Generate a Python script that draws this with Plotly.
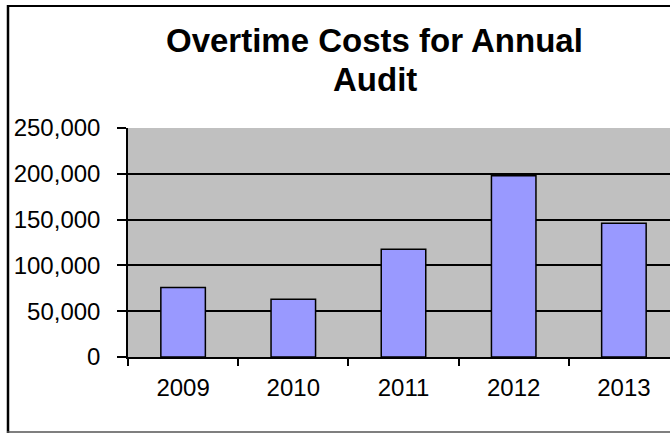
import plotly.graph_objects as go

years = ["2009", "2010", "2011", "2012", "2013"]
costs = [76000, 63000, 117500, 198000, 146000]
y_ticks = [0, 50000, 100000, 150000, 200000, 250000]
title_lines = ["Overtime Costs for Annual", "Audit"]

W, H = 670, 434
L, T, B = 128, 128, 77
plot_w = W - L
plot_h = H - T - B

def px_x(px):
    return (px - L) / plot_w

def px_y(py):
    return (H - B - py) / plot_h

font_family = "Arial, Liberation Sans, sans-serif"

fig = go.Figure()
fig.add_trace(go.Bar(
    x=years, y=costs,
    marker=dict(color="#9999FF", line=dict(color="black", width=1.5)),
    width=0.404,
))

border = [
    dict(x0=px_x(8), x1=px_x(8), y0=px_y(433), y1=px_y(5), color="black", width=2.5),
    dict(x0=px_x(7), x1=px_x(720), y0=px_y(6), y1=px_y(6), color="black", width=2),
    dict(x0=px_x(7), x1=px_x(720), y0=px_y(432), y1=px_y(432), color="#555555", width=1.5),
]

fig.update_layout(
    width=W, height=H,
    margin=dict(l=L, r=0, t=T, b=B, pad=0),
    paper_bgcolor="white",
    plot_bgcolor="#C0C0C0",
    showlegend=False,
    font=dict(family=font_family, color="black", size=24),
    xaxis=dict(
        type="category",
        range=[-0.5, -0.5 + plot_w / 110.2],
        tickson="boundaries",
        ticks="outside", ticklen=7, tickwidth=1.5, tickcolor="black",
        showline=True, linecolor="black", linewidth=1.5,
        showgrid=False,
        ticklabelstandoff=8,
        tickfont=dict(size=24),
    ),
    yaxis=dict(
        range=[0, 250000],
        tickvals=y_ticks,
        tickformat=",d",
        ticks="outside", ticklen=9, tickwidth=1.5, tickcolor="black",
        showline=True, linecolor="black", linewidth=1.5,
        showgrid=True, gridcolor="black", gridwidth=1.5,
        zeroline=False,
        ticklabelstandoff=12,
        tickfont=dict(size=24),
    ),
    shapes=[
        dict(type="line", xref="paper", yref="paper",
             x0=b["x0"], x1=b["x1"], y0=b["y0"], y1=b["y1"],
             line=dict(color=b["color"], width=b["width"]), layer="above")
        for b in border
    ],
    annotations=[
        dict(
            text="<b>" + line + "</b>",
            xref="paper", yref="paper",
            x=px_x(374.5), y=px_y(cy), xanchor="center", yanchor="middle",
            showarrow=False, align="center",
            font=dict(size=33, family=font_family, color="black"),
        )
        for line, cy in zip(title_lines, [40, 79])
    ],
)

fig.write_html("out.html", config={"displayModeBar": False},
               post_script="document.body.style.margin='0';")
